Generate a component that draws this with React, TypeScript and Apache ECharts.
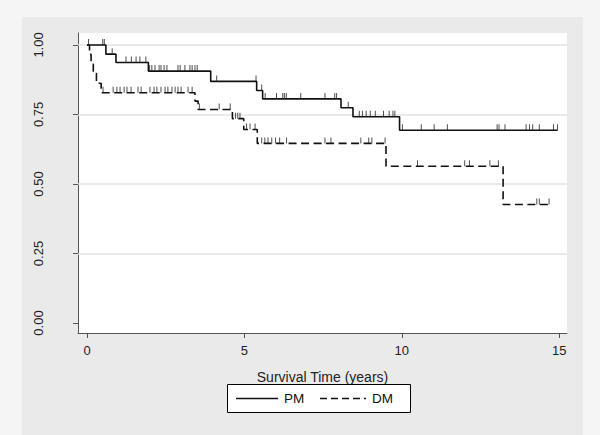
import React, { useEffect, useRef } from 'react';
import * as echarts from 'echarts';

// Tick values / labels
const xTickValues = [0, 5, 10, 15];
const yTickValues = [0, 0.25, 0.5, 0.75, 1];
const yTickLabels = ['0.00', '0.25', '0.50', '0.75', '1.00'];
const gridLineValues = [0.25, 0.5, 0.75, 1];
const legendNames = ['PM', 'DM'];

// Kaplan-Meier steps: PM
const pmTimes = [0, 0.6, 0.92, 1.95, 3.93, 5.39, 5.58, 8.07, 8.45, 9.93, 14.95];
const pmSurv = [1.0, 0.967, 0.937, 0.906, 0.869, 0.836, 0.806, 0.774, 0.742, 0.693, 0.693];
const pmCensor = [0.05, 0.5, 0.55, 0.8, 1.24, 1.41, 1.56, 1.68, 1.87, 1.99, 2.06, 2.16, 2.29, 2.35, 2.45, 2.54,
  2.89, 2.96, 3.11, 3.27, 3.34, 3.43, 3.5, 4.12, 5.37, 5.55, 5.66, 6.02, 6.22, 6.27, 6.33, 6.79, 7.56, 7.87,
  7.93, 8.3, 8.65, 8.75, 8.87, 9.0, 9.16, 9.42, 9.6, 9.72, 9.78, 10.02, 10.62, 11.03, 11.45, 13.03, 13.09,
  13.28, 13.95, 14.06, 14.16, 14.37, 14.82, 14.95];

// Kaplan-Meier steps: DM
const dmTimes = [0, 0.08, 0.13, 0.2, 0.3, 0.45, 3.43, 3.53, 4.62, 4.98, 5.41, 9.5, 13.22, 14.68];
const dmSurv = [1.0, 0.966, 0.931, 0.897, 0.862, 0.828, 0.798, 0.768, 0.735, 0.696, 0.646, 0.564, 0.426, 0.426];
const dmCensor = [0.51, 0.83, 0.95, 1.05, 1.18, 1.27, 1.4, 1.62, 1.72, 2.0, 2.13, 2.22, 2.35, 2.48, 2.57, 2.7,
  2.8, 2.89, 2.99, 3.21, 3.34, 3.57, 4.2, 4.55, 4.72, 4.79, 4.86, 5.07, 5.18, 5.34, 5.55, 5.65, 5.75, 5.87,
  5.99, 6.12, 6.34, 7.56, 7.75, 8.7, 8.95, 9.05, 9.47, 10.5, 12.0, 12.15, 12.8, 13.07, 14.29, 14.37, 14.68];

const FONT = '"Liberation Sans", Arial, Helvetica, sans-serif';
const DASH = [8, 4.5];

function survAt(times: number[], surv: number[], t: number): number {
  let s = surv[0];
  for (let i = 0; i < times.length; i++) {
    if (times[i] <= t) s = surv[i];
  }
  return s;
}

const GRID = { left: 78, top: 33, width: 489, height: 300 };

export default function App() {
  const ref = useRef<HTMLDivElement>(null);
  useEffect(() => {
    const chart = echarts.init(ref.current!, null, { renderer: 'svg' });
    const lineColor = '#111';
    const legendY = 398.5;
    const option: any = {
      animation: false,
      backgroundColor: '#f5f5f5',
      textStyle: { fontFamily: FONT },
      graphic: {
        elements: [
          { type: 'rect', z: -100, silent: true, shape: { x: 22, y: 17, width: 561, height: 418 }, style: { fill: '#eaeaea' } },
          { type: 'rect', z: -99, silent: true, shape: { x: GRID.left, y: GRID.top, width: GRID.width, height: GRID.height }, style: { fill: '#ffffff' } },
          // legend box
          { type: 'rect', z: 10, silent: true, shape: { x: 227.5, y: 384.5, width: 183, height: 28 }, style: { fill: '#ffffff', stroke: '#000', lineWidth: 1 } },
          { type: 'line', z: 11, silent: true, shape: { x1: 236, y1: legendY, x2: 278, y2: legendY }, style: { stroke: lineColor, lineWidth: 1.6 } },
          { type: 'text', z: 11, silent: true, x: 284, y: legendY, style: { text: legendNames[0], font: `13.5px ${FONT}`, fill: '#111', verticalAlign: 'middle', align: 'left' } },
          { type: 'line', z: 11, silent: true, shape: { x1: 320, y1: legendY, x2: 366, y2: legendY }, style: { stroke: lineColor, lineWidth: 1.6, lineDash: [7, 4] } },
          { type: 'text', z: 11, silent: true, x: 372, y: legendY, style: { text: legendNames[1], font: `13.5px ${FONT}`, fill: '#111', verticalAlign: 'middle', align: 'left' } },
        ],
      },
      grid: { left: GRID.left, top: GRID.top, width: GRID.width, height: GRID.height, containLabel: false },
      xAxis: {
        type: 'value',
        min: -0.286,
        max: 15.25,
        axisLine: { show: true, onZero: false, lineStyle: { color: '#555', width: 1 } },
        axisTick: { show: true, length: 5, customValues: xTickValues, lineStyle: { color: '#555' } },
        axisLabel: { customValues: xTickValues, margin: 11, fontSize: 13, color: '#222', fontFamily: FONT },
        splitLine: { show: false },
        name: 'Survival Time (years)',
        nameLocation: 'middle',
        nameGap: 37,
        nameTextStyle: { fontSize: 14, color: '#222', fontFamily: FONT },
      },
      yAxis: {
        type: 'value',
        min: -0.036,
        max: 1.043,
        axisLine: { show: true, onZero: false, lineStyle: { color: '#555', width: 1 } },
        axisTick: { show: true, length: 5, customValues: yTickValues, lineStyle: { color: '#555' } },
        axisLabel: {
          customValues: yTickValues,
          rotate: 90,
          margin: 33,
          fontSize: 13,
          color: '#222',
          fontFamily: FONT,
          formatter: (v: number) => {
            const i = yTickValues.findIndex((y) => Math.abs(y - v) < 1e-6);
            return i >= 0 ? yTickLabels[i] : '';
          },
        },
        splitLine: { show: false },
      },
      series: [
        {
          name: 'grid',
          type: 'line',
          data: [],
          z: 1,
          silent: true,
          markLine: {
            silent: true,
            symbol: 'none',
            z: 1,
            label: { show: false },
            lineStyle: { color: '#e3e3e3', width: 1.5, type: 'solid' },
            data: gridLineValues.map((v) => ({ yAxis: v })),
          },
        },
        {
          name: legendNames[0],
          type: 'line',
          step: 'end',
          symbol: 'none',
          z: 3,
          data: pmTimes.map((t, i) => [t, pmSurv[i]]),
          lineStyle: { color: lineColor, width: 1.6, type: 'solid' },
          itemStyle: { color: lineColor },
        },
        {
          name: legendNames[1],
          type: 'line',
          step: 'end',
          symbol: 'none',
          z: 3,
          data: dmTimes.map((t, i) => [t, dmSurv[i]]),
          lineStyle: { color: lineColor, width: 1.6, type: DASH },
          itemStyle: { color: lineColor },
        },
        {
          name: 'PM censored',
          type: 'scatter',
          symbol: 'rect',
          symbolSize: [1, 6],
          symbolOffset: [0, -3],
          z: 3,
          silent: true,
          data: pmCensor.map((t) => [t, survAt(pmTimes, pmSurv, t)]),
          itemStyle: { color: '#222' },
        },
        {
          name: 'DM censored',
          type: 'scatter',
          symbol: 'rect',
          symbolSize: [1, 6],
          symbolOffset: [0, -3],
          z: 3,
          silent: true,
          data: dmCensor.map((t) => [t, survAt(dmTimes, dmSurv, t)]),
          itemStyle: { color: '#222' },
        },
      ],
    };
    chart.setOption(option);
    return () => chart.dispose();
  }, []);
  return (
    <div
      ref={ref}
      style={{ position: 'absolute', left: 0, top: 0, width: 600, height: 435 }}
    />
  );
}
